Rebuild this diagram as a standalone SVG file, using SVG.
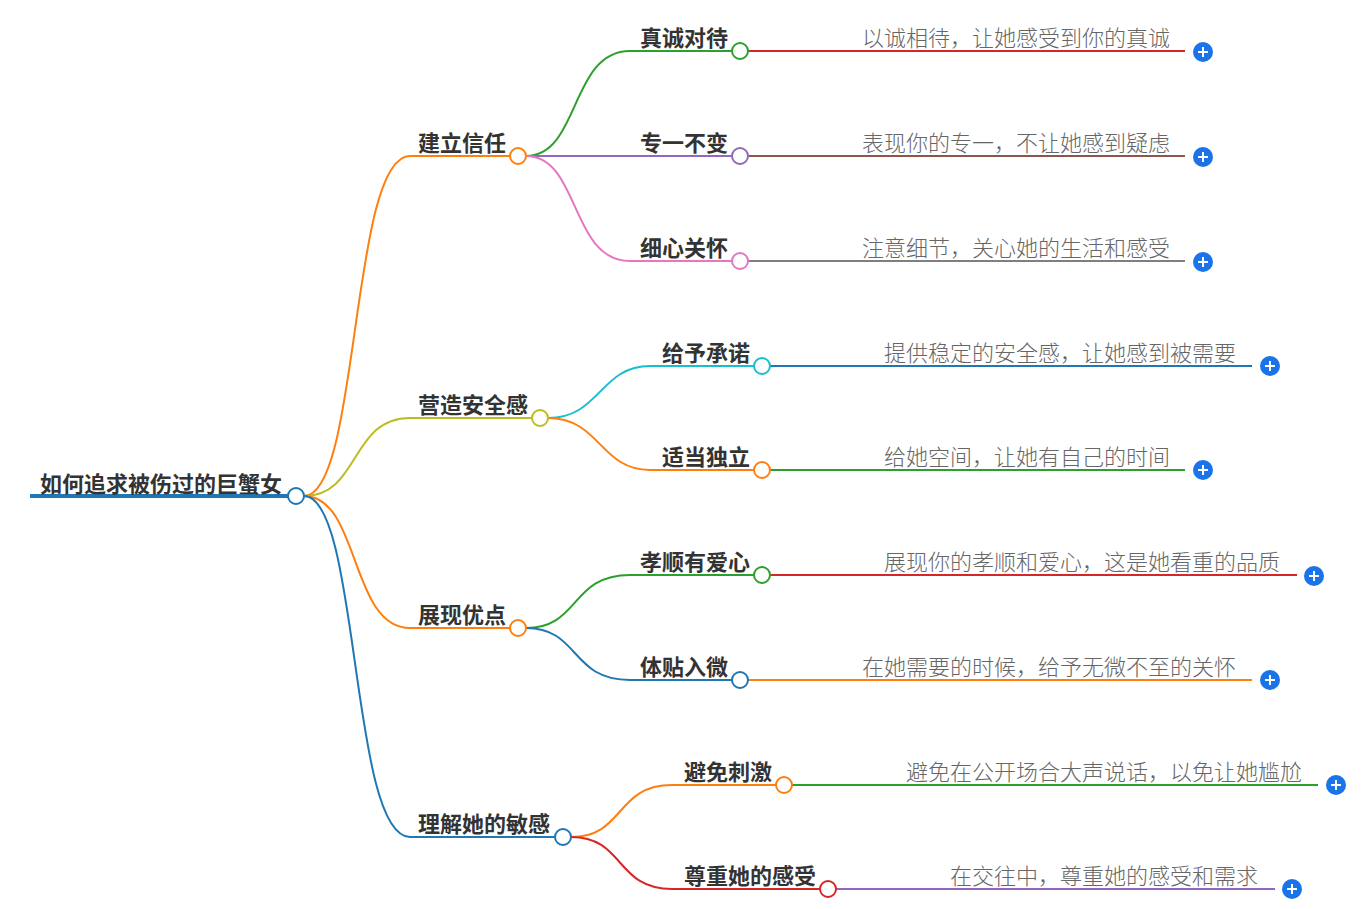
<svg xmlns="http://www.w3.org/2000/svg" width="1370" height="909" viewBox="0 0 1370 909">
<style>
.l{fill:none;stroke-width:2}
.b{font-family:"Noto Sans CJK SC",sans-serif;font-weight:bold;font-size:22px;fill:#333}
.t{font-family:"Noto Sans CJK SC",sans-serif;font-size:22px;fill:#666;font-weight:300}
.c{fill:#fff;stroke-width:2}
.p circle{fill:#1a73e8}
.p path{stroke:#fff;stroke-width:2}
</style>
<rect width="1370" height="909" fill="#fff"/>
<g id="connectors">
<path d="M30 496H296" stroke="#1f77b4" stroke-width="4" fill="none"/>
<path class="l" stroke="#ff7f0e" d="M304 496C360 496 350 156 410 156H518"/>
<path class="l" stroke="#bcbd22" d="M304 496C360 496 350 418 410 418H540"/>
<path class="l" stroke="#ff7f0e" d="M304 496C360 496 350 628 410 628H518"/>
<path class="l" stroke="#1f77b4" d="M304 496C360 496 350 837 410 837H563"/>
<path class="l" stroke="#2ca02c" d="M526 156C580 156 570 51 630 51H740"/>
<path class="l" stroke="#9467bd" d="M526 156H740"/>
<path class="l" stroke="#e377c2" d="M526 156C580 156 570 261 630 261H740"/>
<path class="l" stroke="#17becf" d="M548 418C600 418 600 366 650 366H762"/>
<path class="l" stroke="#ff7f0e" d="M548 418C600 418 600 470 650 470H762"/>
<path class="l" stroke="#2ca02c" d="M526 628C580 628 570 575 630 575H762"/>
<path class="l" stroke="#1f77b4" d="M526 628C580 628 570 680 630 680H740"/>
<path class="l" stroke="#ff7f0e" d="M571 837C625 837 615 785 672 785H784"/>
<path class="l" stroke="#d62728" d="M571 837C625 837 615 889 672 889H828"/>
<path class="l" stroke="#d62728" d="M748 51H1185"/>
<path class="l" stroke="#8c564b" d="M748 156H1185"/>
<path class="l" stroke="#7f7f7f" d="M748 261H1185"/>
<path class="l" stroke="#1f77b4" d="M770 366H1252"/>
<path class="l" stroke="#2ca02c" d="M770 470H1185"/>
<path class="l" stroke="#d62728" d="M770 575H1297"/>
<path class="l" stroke="#ff7f0e" d="M748 680H1252"/>
<path class="l" stroke="#2ca02c" d="M792 785H1318"/>
<path class="l" stroke="#9467bd" d="M836 889H1275"/>
</g>
<g id="root"><text class="b" x="40" y="492" font-size="21">如何追求被伤过的巨蟹女</text><circle class="c" stroke="#1f77b4" cx="296" cy="496" r="8"/></g>
<g id="n1"><text class="b" x="418" y="151">建立信任</text><circle class="c" stroke="#ff7f0e" cx="518" cy="156" r="8"/></g>
<g id="n2"><text class="b" x="418" y="413">营造安全感</text><circle class="c" stroke="#bcbd22" cx="540" cy="418" r="8"/></g>
<g id="n3"><text class="b" x="418" y="623">展现优点</text><circle class="c" stroke="#ff7f0e" cx="518" cy="628" r="8"/></g>
<g id="n4"><text class="b" x="418" y="832">理解她的敏感</text><circle class="c" stroke="#1f77b4" cx="563" cy="837" r="8"/></g>
<g id="n11"><text class="b" x="640" y="46">真诚对待</text><circle class="c" stroke="#2ca02c" cx="740" cy="51" r="8"/><text class="t" x="862" y="46">以诚相待，让她感受到你的真诚</text></g>
<g id="n12"><text class="b" x="640" y="151">专一不变</text><circle class="c" stroke="#9467bd" cx="740" cy="156" r="8"/><text class="t" x="862" y="151">表现你的专一，不让她感到疑虑</text></g>
<g id="n13"><text class="b" x="640" y="256">细心关怀</text><circle class="c" stroke="#e377c2" cx="740" cy="261" r="8"/><text class="t" x="862" y="256">注意细节，关心她的生活和感受</text></g>
<g id="n21"><text class="b" x="662" y="361">给予承诺</text><circle class="c" stroke="#17becf" cx="762" cy="366" r="8"/><text class="t" x="884" y="361">提供稳定的安全感，让她感到被需要</text></g>
<g id="n22"><text class="b" x="662" y="465">适当独立</text><circle class="c" stroke="#ff7f0e" cx="762" cy="470" r="8"/><text class="t" x="884" y="465">给她空间，让她有自己的时间</text></g>
<g id="n31"><text class="b" x="640" y="570">孝顺有爱心</text><circle class="c" stroke="#2ca02c" cx="762" cy="575" r="8"/><text class="t" x="884" y="570">展现你的孝顺和爱心，这是她看重的品质</text></g>
<g id="n32"><text class="b" x="640" y="675">体贴入微</text><circle class="c" stroke="#1f77b4" cx="740" cy="680" r="8"/><text class="t" x="862" y="675">在她需要的时候，给予无微不至的关怀</text></g>
<g id="n41"><text class="b" x="684" y="780">避免刺激</text><circle class="c" stroke="#ff7f0e" cx="784" cy="785" r="8"/><text class="t" x="906" y="780">避免在公开场合大声说话，以免让她尴尬</text></g>
<g id="n42"><text class="b" x="684" y="884">尊重她的感受</text><circle class="c" stroke="#d62728" cx="828" cy="889" r="8"/><text class="t" x="950" y="884">在交往中，尊重她的感受和需求</text></g>
<g id="plus" class="p">
<g transform="translate(1203,52)"><circle r="10"/><path d="M-5 0H5M0-5V5"/></g>
<g transform="translate(1203,157)"><circle r="10"/><path d="M-5 0H5M0-5V5"/></g>
<g transform="translate(1203,262)"><circle r="10"/><path d="M-5 0H5M0-5V5"/></g>
<g transform="translate(1270,366)"><circle r="10"/><path d="M-5 0H5M0-5V5"/></g>
<g transform="translate(1203,470)"><circle r="10"/><path d="M-5 0H5M0-5V5"/></g>
<g transform="translate(1314,576)"><circle r="10"/><path d="M-5 0H5M0-5V5"/></g>
<g transform="translate(1270,680)"><circle r="10"/><path d="M-5 0H5M0-5V5"/></g>
<g transform="translate(1336,785)"><circle r="10"/><path d="M-5 0H5M0-5V5"/></g>
<g transform="translate(1292,889)"><circle r="10"/><path d="M-5 0H5M0-5V5"/></g>
</g>
</svg>
